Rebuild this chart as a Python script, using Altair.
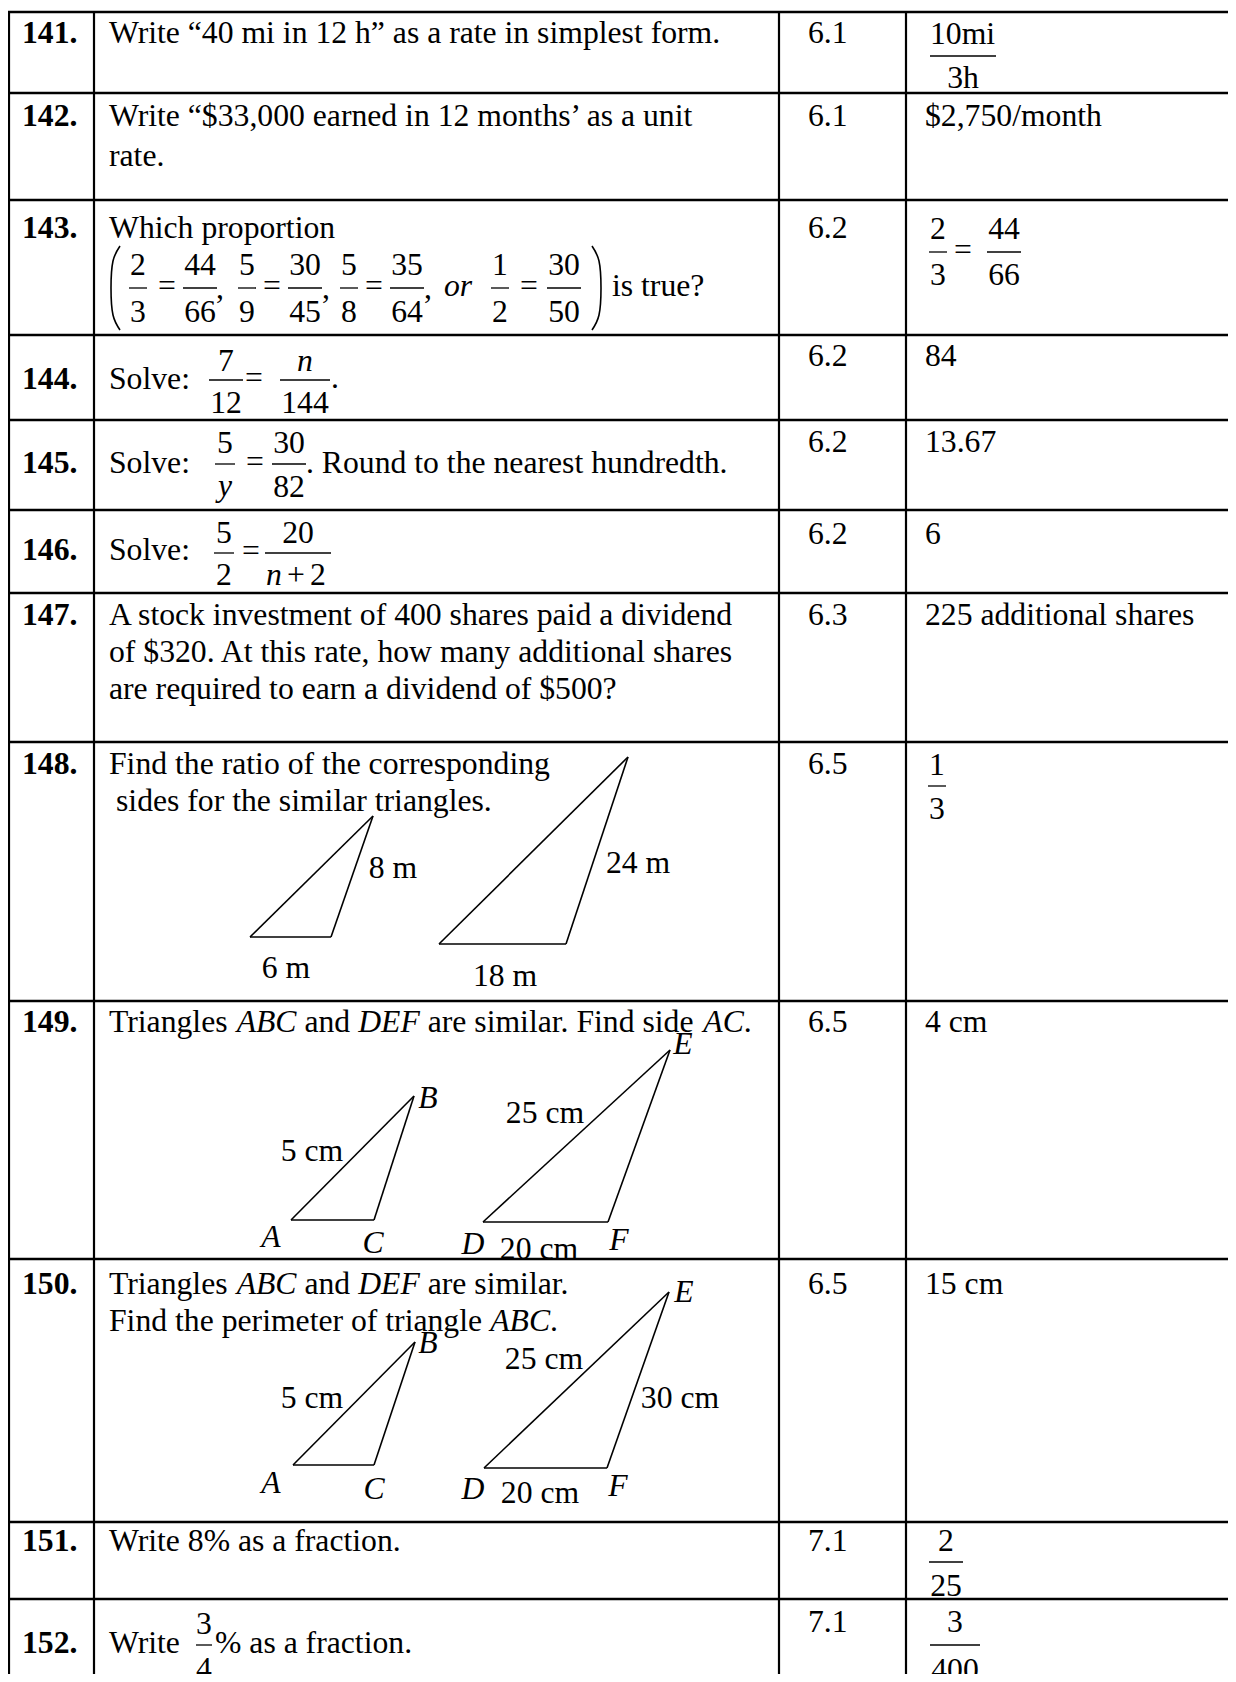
import altair as alt
import pandas as pd

FONT = "Liberation Serif"
FS = 31.7

# ---------------- content ----------------
numbers = ["141.", "142.", "143.", "144.", "145.", "146.", "147.", "148.", "149.", "150.", "151.", "152."]
sections = ["6.1", "6.1", "6.2", "6.2", "6.2", "6.2", "6.3", "6.5", "6.5", "6.5", "7.1", "7.1"]
answers_text = ["", "$2,750/month", "", "84", "13.67", "6", "225 additional shares", "", "4 cm", "15 cm", "", ""]
q141 = ["Write “40 mi in 12 h” as a rate in simplest form."]
q142 = ["Write “$33,000 earned in 12 months’ as a unit", "rate."]
q143 = ["Which proportion"]
q147 = ["A stock investment of 400 shares paid a dividend",
        "of $320. At this rate, how many additional shares",
        "are required to earn a dividend of $500?"]
q148 = ["Find the ratio of the corresponding", "sides for the similar triangles."]
q149 = [("Triangles ", "n"), ("ABC", "i"), (" and ", "n"), ("DEF", "i"),
        (" are similar. Find side ", "n"), ("AC", "i"), (".", "n")]
q150a = [("Triangles ", "n"), ("ABC", "i"), (" and ", "n"), ("DEF", "i"), (" are similar.", "n")]
q150b = [("Find the perimeter of triangle ", "n"), ("ABC", "i"), (".", "n")]
q151 = "Write 8% as a fraction."
solve_word = "Solve:"
fr143 = [("2", "3"), ("44", "66"), ("5", "9"), ("30", "45"), ("5", "8"), ("35", "64"), ("1", "2"), ("30", "50")]
fr144 = [("7", "12"), ("n", "144")]
fr145 = [("5", "y"), ("30", "82")]
fr146 = [("5", "2"), ("20", "n + 2")]
fr152 = ("3", "4")
ans141 = ("10mi", "3h")
ans143 = [("2", "3"), ("44", "66")]
ans148 = ("1", "3")
ans151 = ("2", "25")
ans152 = ("3", "400")
lab148 = ["8 m", "24 m", "6 m", "18 m"]
lab149 = ["A", "C", "B", "5 cm", "E", "D", "F", "20 cm", "25 cm"]
lab150 = ["A", "C", "B", "5 cm", "E", "D", "F", "20 cm", "25 cm", "30 cm"]

# ---------------- layout (page pixels) ----------------
row_top = [12, 93, 200, 335, 420, 510, 593, 742, 1001, 1259, 1522, 1599]
row_base = [43, 126, 238, 366, 452, 544, 625, 774, 1032, 1294, 1551, 1632]
num_base = [43, 126, 238, 389, 473, 560, 625, 774, 1032, 1294, 1551, 1653]
col_x = [9, 94, 779, 906]
X_NUM, X_Q, X_SEC, X_ANS = 22, 109, 808, 925
LEAD = 37

W_N = {" ": 250, "T": 611, "r": 333, "i": 278, "a": 444, "n": 500, "g": 500, "l": 278, "e": 444,
       "s": 389, "d": 500, "m": 778, ".": 250, "F": 556, "t": 278, "h": 500, "p": 500, "o": 500,
       "f": 333, "c": 444}
W_I = {"A": 611, "B": 611, "C": 667, "D": 722, "E": 611, "F": 611}

texts, rules, curves = [], [], []


def T(x, y, t, style="n", align="left"):
    texts.append(dict(x=x, y=y, t=t, style=style, align=align))


def R(x1, y1, x2, y2, w=1.3):
    rules.append(dict(x=x1, y=y1, x2=x2, y2=y2, w=w))


def frac(xc, num, den, yn, yb, yd, half, ns="n", ds="n"):
    T(xc, yn, num, ns, "center")
    T(xc, yd, den, ds, "center")
    R(xc - half, yb, xc + half, yb)


def seg_line(x, y, segs):
    for s, st in segs:
        widths = W_I if st == "i" else W_N
        lead = len(s) - len(s.lstrip(" "))
        if s.strip():
            T(x + lead * 250 * FS / 1000, y, s.strip(), st)
        x += sum(widths[c] for c in s) * FS / 1000


# table grid
for yt in row_top:
    R(8, yt, 1228, yt, 2.6)
for xc in col_x:
    R(xc, row_top[0], xc, 1674, 2.2)

# numbers, sections, plain answers
for i, n in enumerate(numbers):
    T(X_NUM, num_base[i], n, "b")
for i, s in enumerate(sections):
    T(X_SEC, row_base[i], s)
for i, a in enumerate(answers_text):
    if a:
        T(X_ANS, row_base[i], a)

# plain question lines
for ri, lines in [(0, q141), (1, q142), (2, q143), (6, q147), (7, q148)]:
    for k, line in enumerate(lines):
        dx = 7 if (ri == 7 and k == 1) else 0
        extra = 3 if (ri == 1 and k == 1) else 0
        T(X_Q + dx, row_base[ri] + k * LEAD + extra, line)
T(X_Q, row_base[10], q151)
seg_line(X_Q, row_base[8], q149)
seg_line(X_Q, row_base[9], q150a)
seg_line(X_Q, row_base[9] + LEAD, q150b)

# row 143 formula
for (n, d), xc in zip(fr143, [138, 200, 247, 305, 349, 407, 500, 564]):
    frac(xc, n, d, 275, 288, 322, 9 if len(n) == 1 else 17)
for xc in [167, 272, 374, 529]:
    T(xc, 296, "=", "n", "center")
for xc in [220, 326, 428]:
    T(xc, 298, ",", "n", "center")
T(458, 296, "or", "i", "center")
T(612, 296, "is true?")
for pid, pts in enumerate([[(120, 246), (113, 261), (111, 288), (113, 315), (120, 330)],
                           [(592, 246), (599, 261), (601, 288), (599, 315), (592, 330)]]):
    for k, (px, py) in enumerate(pts):
        curves.append(dict(x=px, y=py, id=pid, k=k))

# row 144
T(X_Q, 389, solve_word)
frac(226, fr144[0][0], fr144[0][1], 371, 380, 413, 17)
T(254, 388, "=", "n", "center")
frac(305, fr144[1][0], fr144[1][1], 371, 380, 413, 25, ns="i")
T(331, 388, ".")

# row 145
T(X_Q, 473, solve_word)
frac(225, fr145[0][0], fr145[0][1], 453, 464, 496, 10, ds="i")
T(255, 472, "=", "n", "center")
frac(289, fr145[1][0], fr145[1][1], 453, 464, 497, 17)
T(306, 473, ". Round to the nearest hundredth.")

# row 146
T(X_Q, 560, solve_word)
frac(224, fr146[0][0], fr146[0][1], 543, 553, 585, 10)
T(251, 561, "=", "n", "center")
T(298, 543, fr146[1][0], "n", "center")
R(265, 553, 331, 553)
dparts = fr146[1][1].split(" ")
T(274, 585, dparts[0], "i", "center")
T(296, 585, dparts[1], "n", "center")
T(318, 585, dparts[2], "n", "center")

# row 152
T(X_Q, 1653, "Write")
frac(204, fr152[0], fr152[1], 1634, 1645, 1679, 8)
T(215, 1653, "% as a fraction.")

# answer fractions
T(930, 44, ans141[0])
R(930, 56, 996, 56)
T(963, 88, ans141[1], "n", "center")
frac(938, ans143[0][0], ans143[0][1], 239, 252, 285, 9)
T(963, 260, "=", "n", "center")
frac(1004, ans143[1][0], ans143[1][1], 239, 252, 285, 17)
frac(937, ans148[0], ans148[1], 775, 786, 819, 9)
frac(946, ans151[0], ans151[1], 1551, 1562, 1596, 17)
frac(955, ans152[0], ans152[1], 1632, 1645, 1680, 25)

# triangles
tris = [
    [(250, 937), (373, 816), (331, 937)],
    [(439, 944), (628, 757), (566, 944)],
    [(291, 1220), (414, 1096), (374, 1220)],
    [(483, 1222), (670, 1050), (608, 1222)],
    [(293, 1465), (415, 1342), (374, 1465)],
    [(484, 1468), (669, 1292), (607, 1468)],
]
for tri in tris:
    for a in range(3):
        (x1, y1), (x2, y2) = tri[a], tri[(a + 1) % 3]
        R(x1, y1, x2, y2, 1.6)

lab148_pos = [(393, 878), (638, 873), (286, 978), (505, 986)]
for t, (px, py) in zip(lab148, lab148_pos):
    T(px, py, t, "n", "center")
lab149_pos = [(271, 1247), (373, 1253), (428, 1108), (312, 1161), (683, 1054),
              (473, 1254), (619, 1250), (539, 1259), (545, 1123)]
lab150_pos = [(271, 1493), (374, 1499), (428, 1353), (312, 1408), (684, 1302),
              (473, 1499), (618, 1496), (540, 1503), (544, 1369), (680, 1408)]
for labs, poss in [(lab149, lab149_pos), (lab150, lab150_pos)]:
    for t, (px, py) in zip(labs, poss):
        T(px, py, t, "i" if len(t) == 1 else "n", "center")

# ---------------- chart ----------------
xs = alt.Scale(domain=[8, 1228], nice=False, zero=False)
ys = alt.Scale(domain=[8, 1674], nice=False, zero=False, reverse=True)

tdf = pd.DataFrame(texts)
rdf = pd.DataFrame(rules)
cdf = pd.DataFrame(curves)

layers = [
    alt.Chart(rdf).mark_rule(color="black", strokeCap="butt").encode(
        x=alt.X("x:Q", scale=xs, axis=None),
        y=alt.Y("y:Q", scale=ys, axis=None),
        x2="x2:Q", y2="y2:Q",
        strokeWidth=alt.StrokeWidth("w:Q", scale=None, legend=None),
    ),
    alt.Chart(cdf).mark_line(color="black", strokeWidth=1.6, interpolate="natural").encode(
        x=alt.X("x:Q", scale=xs, axis=None),
        y=alt.Y("y:Q", scale=ys, axis=None),
        detail="id:N", order="k:Q",
    ),
]
for style in ["n", "i", "b"]:
    for align in ["left", "center"]:
        sub = tdf[(tdf["style"] == style) & (tdf["align"] == align)]
        if len(sub) == 0:
            continue
        layers.append(
            alt.Chart(sub).mark_text(
                font=FONT, fontSize=FS, align=align, baseline="alphabetic", color="black",
                fontStyle="italic" if style == "i" else "normal",
                fontWeight="bold" if style == "b" else "normal",
            ).encode(
                x=alt.X("x:Q", scale=xs, axis=None),
                y=alt.Y("y:Q", scale=ys, axis=None),
                text="t:N",
            )
        )

chart = alt.layer(*layers).properties(
    width=1220, height=1666, padding=0, autosize=alt.AutoSizeParams(type="none"),
    background="white",
).configure_view(strokeWidth=0)

chart.save("out.html", embed_options={"renderer": "svg", "actions": False})
